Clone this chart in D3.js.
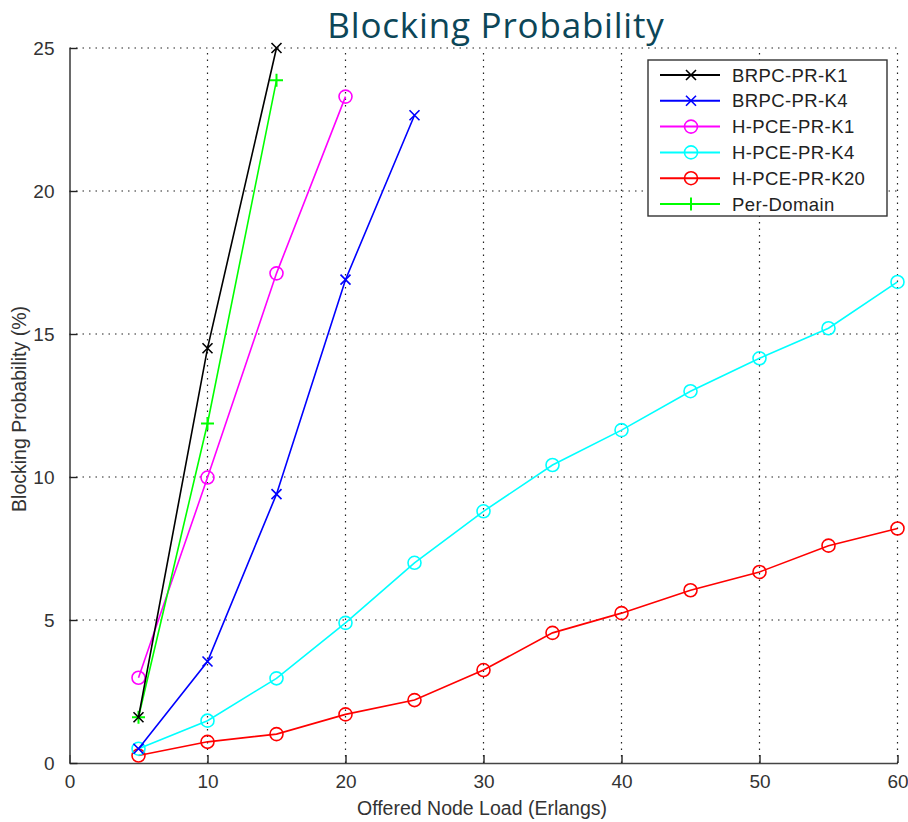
<!DOCTYPE html>
<html>
<head>
<script src="https://d3js.org/d3.v7.min.js"></script>
<style>
  body { margin: 0; background: #fff; }
  svg text { font-family: "Liberation Sans", Arial, sans-serif; }
</style>
</head>
<body>
<div id="chart"></div>
<script>
const loads5to60 = [5, 10, 15, 20, 25, 30, 35, 40, 45, 50, 55, 60]

const brpcK1 = [1.6, 14.5, 25.0]
const brpcK4 = [0.5, 3.55, 9.4, 16.9, 22.65]
const hpceK1 = [2.98, 9.98, 17.12, 23.3]
const hpceK4 = [0.5, 1.48, 2.96, 4.9, 7.0, 8.8, 10.42, 11.64, 13.0, 14.15, 15.2, 16.82]
const hpceK20 = [0.26, 0.74, 1.01, 1.7, 2.2, 3.25, 4.55, 5.24, 6.04, 6.68, 7.6, 8.2]
const perDomain = [1.6, 11.87, 23.87]

const xTicks = [0, 10, 20, 30, 40, 50, 60]
const yTicks = [0, 5, 10, 15, 20, 25]

const series = [
  { name: 'BRPC-PR-K1', values: brpcK1, color: '#000000', marker: 'x' },
  { name: 'BRPC-PR-K4', values: brpcK4, color: '#0000ff', marker: 'x' },
  { name: 'H-PCE-PR-K1', values: hpceK1, color: '#ff00ff', marker: 'o' },
  { name: 'H-PCE-PR-K4', values: hpceK4, color: '#00ffff', marker: 'o' },
  { name: 'H-PCE-PR-K20', values: hpceK20, color: '#ff0000', marker: 'o' },
  { name: 'Per-Domain', values: perDomain, color: '#00ff00', marker: '+' }
]

const w = 908, h = 822
const m = { left: 69.5, right: 10.5, top: 48, bottom: 59 }

const svg = d3.select('#chart').append('svg')
  .attr('width', w).attr('height', h)

const x = d3.scaleLinear().domain([0, 60]).range([m.left, w - m.right])
const y = d3.scaleLinear().domain([0, 25]).range([h - m.bottom, m.top])

// grid
const grid = svg.append('g').attr('stroke', '#222').attr('stroke-width', 1.2)
  .attr('stroke-dasharray', '1.5,5')
grid.selectAll('.gx').data(xTicks.slice(1)).enter().append('line')
  .attr('x1', d => x(d)).attr('x2', d => x(d))
  .attr('y1', y(0)).attr('y2', y(25))
grid.selectAll('.gy').data(yTicks.slice(1)).enter().append('line')
  .attr('x1', x(0)).attr('x2', x(60))
  .attr('y1', d => y(d)).attr('y2', d => y(d))

// axes
const xAxis = d3.axisBottom(x).tickValues(xTicks).tickSizeInner(-8).tickSizeOuter(0).tickPadding(12)
const yAxis = d3.axisLeft(y).tickValues(yTicks).tickSizeInner(-8).tickSizeOuter(0).tickPadding(15)

const gx = svg.append('g').attr('transform', `translate(0,${y(0)})`).call(xAxis)
const gy = svg.append('g').attr('transform', `translate(${x(0)},0)`).call(yAxis)
;[gx, gy].forEach(g => {
  g.select('.domain').attr('stroke', '#444').attr('stroke-width', 1.6)
  g.selectAll('.tick line').attr('stroke', '#222').attr('stroke-width', 1.4)
  g.selectAll('.tick text').attr('fill', '#333').style('font-size', '19px')
    .style('font-family', '"Liberation Sans", Arial, sans-serif')
})

// lines
const line = d3.line().x(d => x(d[0])).y(d => y(d[1]))

function drawMarker(g, type, color, cx, cy) {
  if (type === 'o') {
    g.append('circle').attr('cx', cx).attr('cy', cy).attr('r', 6.5)
      .attr('fill', 'none').attr('stroke', color).attr('stroke-width', 1.6)
  } else if (type === 'x') {
    const s = 5
    g.append('path').attr('d', `M${cx - s},${cy - s}L${cx + s},${cy + s}M${cx - s},${cy + s}L${cx + s},${cy - s}`)
      .attr('stroke', color).attr('stroke-width', 1.6)
  } else {
    const s = 6.5
    g.append('path').attr('d', `M${cx - s},${cy}L${cx + s},${cy}M${cx},${cy - s}L${cx},${cy + s}`)
      .attr('stroke', color).attr('stroke-width', 2)
  }
}

const drawOrder = [4, 3, 2, 1, 5, 0]
drawOrder.forEach(i => {
  const s = series[i]
  const pts = s.values.map((v, j) => [loads5to60[j], v])
  const g = svg.append('g')
  g.append('path').datum(pts).attr('d', line)
    .attr('fill', 'none').attr('stroke', s.color).attr('stroke-width', 1.6)
  pts.forEach(p => drawMarker(g, s.marker, s.color, x(p[0]), y(p[1])))
})

// legend
const lg = svg.append('g').attr('transform', 'translate(648,60)')
lg.append('rect').attr('width', 239).attr('height', 156)
  .attr('fill', '#fff').attr('stroke', '#333').attr('stroke-width', 1.4)
series.forEach((s, i) => {
  const ly = 15 + i * 25.8
  const row = lg.append('g')
  row.append('line').attr('x1', 12).attr('x2', 72).attr('y1', ly).attr('y2', ly)
    .attr('stroke', s.color).attr('stroke-width', 2)
  drawMarker(row, s.marker, s.color, 43, ly)
  row.append('text').attr('x', 84).attr('y', ly).attr('dy', '0.36em')
    .attr('fill', '#222').style('font-size', '18.5px').style('letter-spacing', '0.4px')
    .text(s.name)
})

// labels
svg.append('text').attr('x', 482).attr('y', 815)
  .attr('text-anchor', 'middle').attr('fill', '#333').style('font-size', '19.5px')
  .text('Offered Node Load (Erlangs)')
svg.append('text').attr('transform', `translate(26,409) rotate(-90)`)
  .attr('text-anchor', 'middle').attr('fill', '#333').style('font-size', '19.5px')
  .text('Blocking Probability (%)')

svg.append('text').attr('x', 496).attr('y', 38)
  .attr('text-anchor', 'middle').attr('fill', '#0c4658')
  .style('font-family', '"Open Sans", "Noto Sans", sans-serif')
  .style('font-size', '35px').style('letter-spacing', '0.8px')
  .text('Blocking Probability')
</script>
</body>
</html>
